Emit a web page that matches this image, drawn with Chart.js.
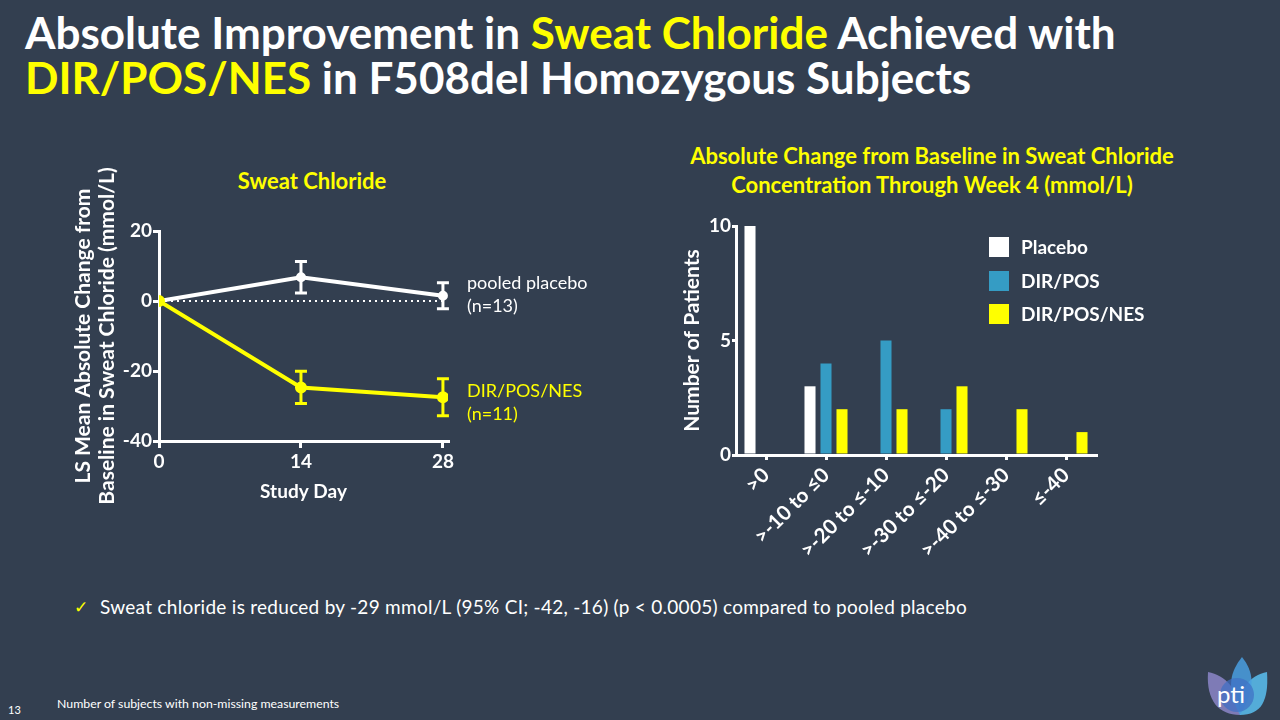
<!DOCTYPE html>
<html>
<head>
<meta charset="utf-8">
<script src="https://cdn.jsdelivr.net/npm/chart.js"></script>
<style>
  body { margin: 0; width: 1280px; height: 720px; overflow: hidden; position: relative;
         background: #333F50; color: #fff; font-family: Lato, sans-serif; }
  .abs { position: absolute; white-space: nowrap; }
  .y { color: #ffff00; }
  .title { left: 25px; top: 10px; font-size: 44px; line-height: 45px; font-weight: 700; }
  .ctitle { font-size: 22px; line-height: 29px; font-weight: 700; color: #ffff00; text-align: center; }
  .lab { font-size: 18px; line-height: 23px; }
  .leg { font-size: 19px; line-height: 20px; font-weight: 700; }
  .sq { position: absolute; width: 20px; height: 20px; }
  canvas { position: absolute; }
</style>
</head>
<body>

<div class="abs title">Absolute Improvement in <span class="y">Sweat Chloride</span> Achieved with<br><span class="y">DIR/POS/NES</span> in F508del Homozygous Subjects</div>

<div class="abs ctitle" style="left:212px;top:166px;width:200px">Sweat Chloride</div>
<div class="abs ctitle" style="left:632px;top:141px;width:600px">Absolute Change from Baseline in Sweat Chloride<br>Concentration Through Week 4 (mmol/L)</div>

<canvas id="graficoLinha" width="412" height="370" style="left:71px;top:150px"></canvas>
<canvas id="graficoBarras" width="440" height="380" style="left:679px;top:200px"></canvas>

<div class="abs lab" style="left:467px;top:271px">pooled placebo<br>(n=13)</div>
<div class="abs lab y" style="left:467px;top:379px">DIR/POS/NES<br>(n=11)</div>

<div class="sq" style="left:989px;top:237px;background:#ffffff"></div>
<div class="sq" style="left:989px;top:271px;background:#359cc4"></div>
<div class="sq" style="left:989px;top:304px;background:#ffff00"></div>
<div class="abs leg" style="left:1021px;top:237px">Placebo</div>
<div class="abs leg" style="left:1021px;top:271px">DIR/POS</div>
<div class="abs leg" style="left:1021px;top:304px">DIR/POS/NES</div>

<div class="abs y" style="left:74px;top:595px;font-size:17px;line-height:24px;font-family:'DejaVu Sans'">✓</div>
<div class="abs" style="left:100px;top:595px;font-size:19px;line-height:24px;letter-spacing:0.27px">Sweat chloride is reduced by -29 mmol/L (95% CI; -42, -16) (p &lt; 0.0005) compared to pooled placebo</div>

<div class="abs" style="left:57px;top:697px;font-size:12.3px;line-height:14px">Number of subjects with non-missing measurements</div>
<div class="abs" style="left:8px;top:703px;font-size:11px;line-height:14px">13</div>

<svg class="abs" style="left:1195px;top:645px" width="75" height="75" viewBox="0 0 75 75">
  <path d="M13 27 C30 30,45 45,45 70 C24 70,11 56,13 27 Z" fill="#8c86c8" opacity="0.85"/>
  <path d="M72 27 C55 30,42 45,45 70 C66 70,74 56,72 27 Z" fill="#5bc0f0" opacity="0.85"/>
  <path d="M47 12 C36 26,30 42,45 70 C62 42,58 26,47 12 Z" fill="#4a9fe0" opacity="0.85"/>
  <circle cx="42" cy="50" r="17" fill="#3f6fc4" opacity="0.7"/>
  <text x="22" y="58" font-family="Lato" font-size="24" fill="#fff">pti</text>
</svg>

<script>
// Gráfico de linha: dias do estudo
const dias = [0, 14, 28];
const placebo = [0, 6.8, 1.5];
const placeboErro = [0, 4.5, 3.7];
const nes = [0, -24.7, -27.5];
const nesErro = [0, 4.6, 5.3];
const linhaBase = [0, 0];
const diasBase = [0, 28];

// Gráfico de barras: número de pacientes
const faixas = [">0", ">-10 to ≤0", ">-20 to ≤-10", ">-30 to ≤-20", ">-40 to ≤-30", "≤-40"];
const pacPlacebo = [10, 3, 0, 0, 0, 0];
const pacDirPos = [0, 4, 5, 2, 0, 0];
const pacDirPosNes = [0, 2, 2, 3, 2, 1];

Chart.defaults.font.family = 'Lato';
Chart.defaults.color = '#fff';

const fonteEixo = { family: 'Lato', size: 19, weight: 'bold' };

// desenha barras de erro usando as escalas do gráfico
const barrasErro = {
  id: 'barrasErro',
  afterDatasetsDraw(chart) {
    const { ctx, scales: { x, y } } = chart;
    chart.data.datasets.forEach(ds => {
      if (!ds.erros) return;
      ctx.save();
      ctx.strokeStyle = ds.borderColor;
      ctx.lineWidth = 3;
      ds.data.forEach((p, j) => {
        const e = ds.erros[j];
        if (!e) return;
        const px = x.getPixelForValue(p.x);
        const topo = y.getPixelForValue(p.y + e);
        const base = y.getPixelForValue(p.y - e);
        ctx.beginPath();
        ctx.moveTo(px, topo); ctx.lineTo(px, base);
        ctx.moveTo(px - 6, topo); ctx.lineTo(px + 6, topo);
        ctx.moveTo(px - 6, base); ctx.lineTo(px + 6, base);
        ctx.stroke();
      });
      ctx.restore();
    });
  }
};

new Chart(document.getElementById('graficoLinha'), {
  type: 'line',
  data: {
    datasets: [
      {
        label: 'DIR/POS/NES',
        data: dias.map((d, i) => ({ x: d, y: nes[i] })),
        erros: nesErro,
        borderColor: '#ffff00', backgroundColor: '#ffff00',
        borderWidth: 4, pointRadius: 4, tension: 0
      },
      {
        label: 'pooled placebo',
        data: dias.map((d, i) => ({ x: d, y: placebo[i] })),
        erros: placeboErro,
        borderColor: '#ffffff', backgroundColor: '#ffffff',
        borderWidth: 4, pointRadius: 3, tension: 0
      },
      {
        label: 'base',
        data: diasBase.map((d, i) => ({ x: d, y: linhaBase[i] })),
        borderColor: '#ffffff', borderWidth: 2, borderDash: [2, 4], pointRadius: 0
      }
    ]
  },
  options: {
    responsive: false,
    animation: false,
    layout: { padding: { top: 81, right: 35, bottom: 17, left: 0 } },
    plugins: { legend: { display: false }, tooltip: { enabled: false } },
    scales: {
      x: {
        type: 'linear', min: 0, max: 28.5,
        afterBuildTicks: s => { s.ticks = dias.map(v => ({ value: v })); },
        afterFit: s => { s.height = 62; },
        border: { color: '#fff', width: 3 },
        grid: { drawOnChartArea: false, color: '#fff', lineWidth: 3, tickLength: 7 },
        ticks: { color: '#fff', font: fonteEixo, padding: 2, maxRotation: 0 },
        title: { display: true, text: 'Study Day', color: '#fff', font: fonteEixo, padding: 0 }
      },
      y: {
        min: -40, max: 20,
        afterFit: s => { s.width = 88; },
        border: { color: '#fff', width: 3 },
        grid: { drawOnChartArea: false, color: '#fff', lineWidth: 3, tickLength: 6 },
        ticks: { color: '#fff', font: fonteEixo, stepSize: 20, padding: 1 },
        title: {
          display: true, color: '#fff', padding: 0,
          font: { family: 'Lato', size: 21, weight: 'bold', lineHeight: 1.14 },
          text: ['LS Mean Absolute Change from', 'Baseline in Sweat Chloride (mmol/L)']
        }
      }
    }
  },
  plugins: [barrasErro]
});

new Chart(document.getElementById('graficoBarras'), {
  type: 'bar',
  data: {
    labels: faixas,
    datasets: [
      { label: 'Placebo', data: pacPlacebo, backgroundColor: '#ffffff' },
      { label: 'DIR/POS', data: pacDirPos, backgroundColor: '#359cc4' },
      { label: 'DIR/POS/NES', data: pacDirPosNes, backgroundColor: '#ffff00' }
    ]
  },
  options: {
    responsive: false,
    animation: false,
    categoryPercentage: 0.8,
    barPercentage: 0.69,
    layout: { padding: { top: 26, right: 23, bottom: 15, left: 0 } },
    plugins: { legend: { display: false }, tooltip: { enabled: false } },
    scales: {
      x: {
        afterFit: s => { s.height = 110; },
        border: { color: '#fff', width: 3 },
        grid: { drawOnChartArea: false, offset: false, color: '#fff', lineWidth: 3, tickLength: 5 },
        ticks: { color: '#fff', font: { family: 'Lato', size: 20.5, weight: 'bold' }, minRotation: 45, maxRotation: 45, padding: 3 }
      },
      y: {
        min: 0, max: 10,
        afterFit: s => { s.width = 57; },
        border: { color: '#fff', width: 3 },
        grid: { drawOnChartArea: false, color: '#fff', lineWidth: 3, tickLength: 4 },
        ticks: { color: '#fff', font: fonteEixo, stepSize: 5, padding: 1 },
        title: {
          display: true, text: 'Number of Patients', color: '#fff', padding: 0,
          font: { family: 'Lato', size: 21, weight: 'bold', lineHeight: 1.3 }
        }
      }
    }
  }
});
</script>
</body>
</html>
